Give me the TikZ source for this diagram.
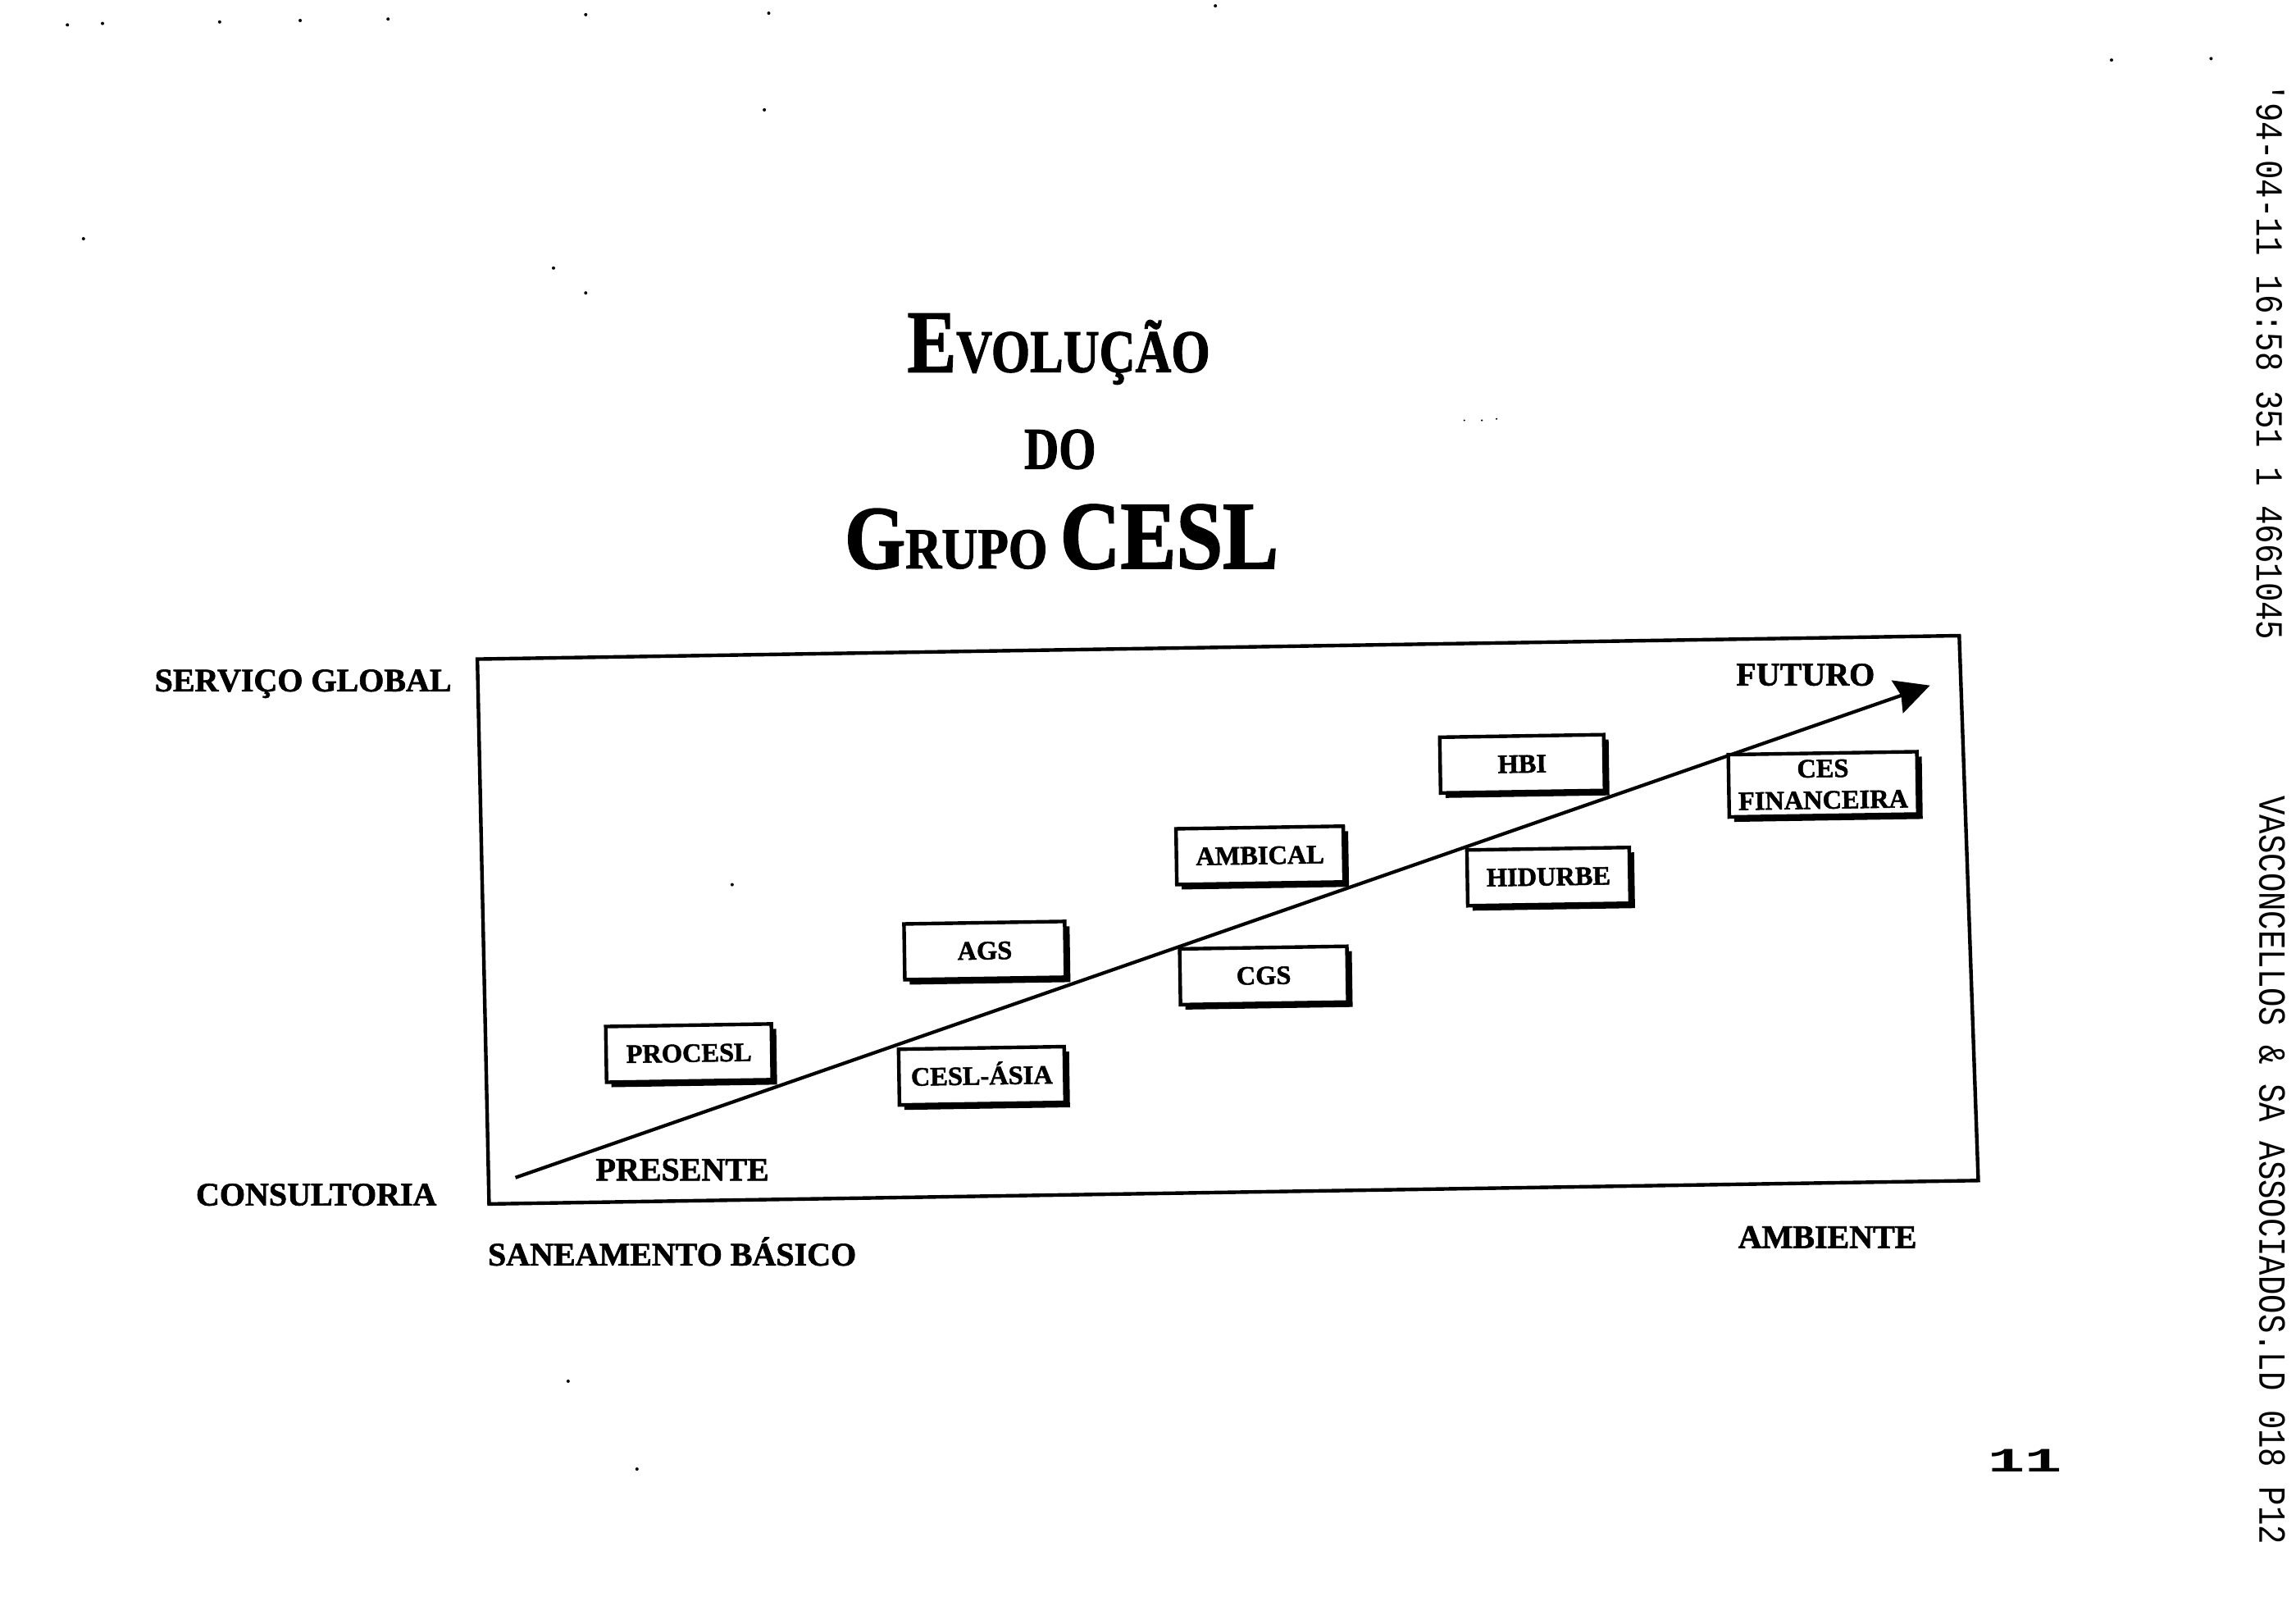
\documentclass[tikz,border=0pt]{standalone}
\usepackage{fontspec}
\setmainfont{Liberation Serif}[BoldFeatures={FakeBold=1.6}]
\newfontfamily\faxfont{Liberation Mono}
\usetikzlibrary{arrows.meta,shadows}
\tikzset{
  x=0.4465pt,y=-0.4465pt,
  framebox/.style={draw=black,line width=1.1pt,line join=miter},
  rising/.style={draw=black,line width=1.05pt,-{Stealth[length=10.5pt,width=10.5pt,inset=1.2pt]}},
  unitbox/.style={draw=black,fill=white,line width=1.1pt,rotate=0.9,inner sep=0pt,
    font=\bfseries\fontsize{8.1}{9.6}\selectfont,align=center,
    drop shadow={shadow xshift=1.5pt,shadow yshift=-1.5pt,opacity=1,fill=black}},
  onebox/.style={unitbox,text height=5.4pt,text depth=0pt,minimum height=17pt},
  axislabel/.style={anchor=base,inner sep=0pt,font=\bfseries\fontsize{10}{12}\selectfont},
  titleline/.style={anchor=base,inner sep=0pt,font=\bfseries},
  faxline/.style={rotate=-90,anchor=base,inner sep=0pt,font=\faxfont\fontsize{13}{13}\selectfont},
  speck/.style={fill=black,draw=none,inner sep=0pt,minimum size=1pt,circle},
}
\newcommand{\fs}[1]{\fontsize{#1}{#1}\selectfont}
\begin{document}
\begin{tikzpicture}
\useasboundingbox (0,0) rectangle (1568,1102.1);
% frame
\coordinate (tl) at (326,450);
\coordinate (tr) at (1338,434);
\coordinate (br) at (1351,806);
\coordinate (bl) at (334,822);
\draw[framebox] (tl) -- (tr) -- (br) -- (bl) -- cycle;
% trend arrow
\coordinate (start) at (352,804);
\coordinate (end) at (1318,468);
\draw[rising] (start) -- (end);
% boxes
\node[onebox,minimum width=50.5pt] (procesl) at (470.5,719) {PROCESL};
\node[onebox,minimum width=49pt] (ags) at (672.5,649) {AGS};
\node[onebox,minimum width=50.5pt] (asia) at (670.5,734.5) {CESL-ÁSIA};
\node[onebox,minimum width=51pt] (ambical) at (860.5,584) {AMBICAL};
\node[onebox,minimum width=51pt] (cgs) at (863,666) {CGS};
\node[onebox,minimum width=50pt] (hbi) at (1039.5,521.5) {HBI};
\node[onebox,minimum width=49.5pt] (hidurbe) at (1057.5,598.5) {HIDURBE};
\node[unitbox,minimum width=57.5pt,minimum height=19pt] (ces) at (1245,535.5) {CES\\FINANCEIRA};
% axis labels
\node[axislabel] (sg) at (207,472) {SERVIÇO GLOBAL};
\node[axislabel] (cons) at (216,823) {CONSULTORIA};
\node[axislabel] (san) at (459,864) {SANEAMENTO BÁSICO};
\node[axislabel] (amb) at (1248,852) {AMBIENTE};
\node[axislabel] (fut) at (1233,468) {FUTURO};
\node[axislabel] (pres) at (466,806) {PRESENTE};
% title
\node[titleline] (t1) at (723,254) {\scalebox{0.8}[0.97]{\fs{28}E\fs{19}VOLUÇÃO}};
\node[titleline] (t2) at (724,320) {\scalebox{0.81}[1]{\fs{18}DO}};
\node[titleline] (t3) at (725,388) {\scalebox{0.85}[0.98]{\fs{28}G\fs{18}RUPO \fs{30}CESL}};
% fax header
\node[faxline] (f1) at (1541,247) {\scalebox{0.75}[0.9]{'94-04-11 16:58 351 1 4661045}};
\node[faxline] (f2) at (1543,799) {\scalebox{0.75}[0.9]{VASCONCELLOS \& SA ASSOCIADOS.LD 018 P12}};
% page number
\node[anchor=base,inner sep=0pt] (pg) at (1383,1005) {\scalebox{1.45}[0.8]{\faxfont\bfseries\fs{13}11}};
% specks
\foreach \p in {(1442,41),(522,75),(57,163),(400,200),(378,183),(500,604),(388,943),(435,1003),(1510,40),(46,17),(70,16),(150,15),(205,14),(265,13),(400,10),(525,9),(830,4)}
  \node[speck] at \p {};
\node[speck,minimum size=0.6pt] at (1000,287) {};
\node[speck,minimum size=0.6pt] at (1012,287) {};
\node[speck,minimum size=0.6pt] at (1022,286) {};
\end{tikzpicture}
\end{document}
